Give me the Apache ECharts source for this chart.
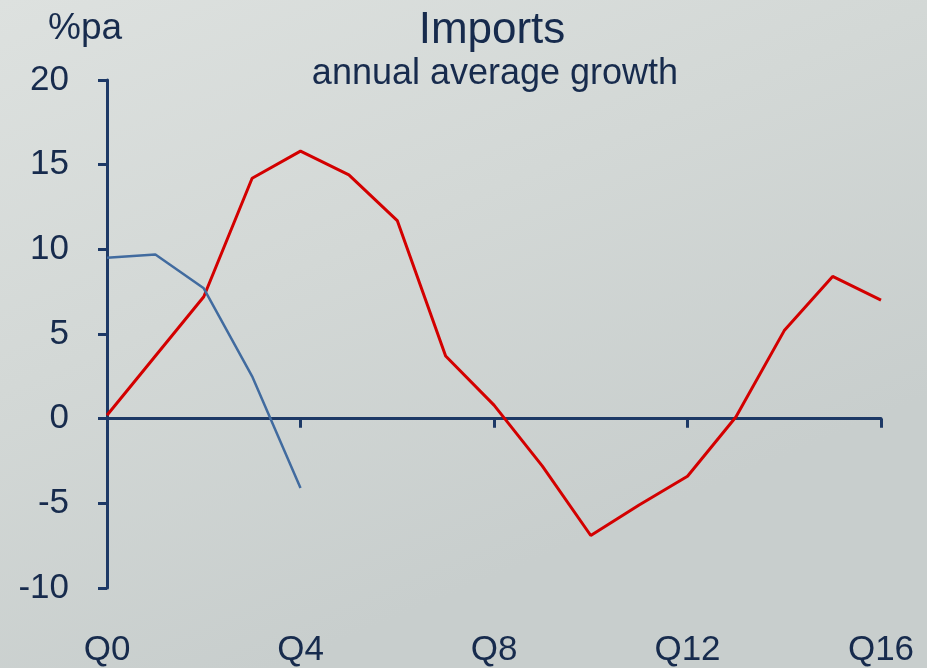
<!DOCTYPE html>
<html>
<head>
<meta charset="utf-8">
<script src="https://cdn.jsdelivr.net/npm/echarts@6/dist/echarts.min.js"></script>
<style>
  html, body { margin: 0; padding: 0; }
  #chart { width: 927px; height: 668px; }
</style>
</head>
<body>
<div id="chart"></div>
<script>
// quarters after the start of the cycle
var quarters = ['Q0','Q1','Q2','Q3','Q4','Q5','Q6','Q7','Q8','Q9','Q10','Q11','Q12','Q13','Q14','Q15','Q16'];
// red line: average cycle
var redLine = [0.2, 3.7, 7.2, 14.2, 15.8, 14.4, 11.7, 3.7, 0.8, -2.8, -6.9, -5.1, -3.4, 0.1, 5.2, 8.4, 7.0];
// blue line: current cycle
var blueLine = [9.5, 9.7, 7.7, 2.5, -4.1];

var ink = '#172b4d';
var axisCol = '#1d3966';

var myChart = echarts.init(document.getElementById('chart'));
var option = {
  backgroundColor: {
    type: 'linear', x: 0, y: 0, x2: 0.3, y2: 1,
    colorStops: [
      { offset: 0, color: '#dde1df' },
      { offset: 0.5, color: '#d3d8d6' },
      { offset: 1, color: '#c8cecd' }
    ]
  },
  animation: false,
  title: [
    {
      text: 'Imports',
      left: 487, top: 4,
      textAlign: 'center',
      textStyle: { fontFamily: 'Liberation Sans', fontSize: 44, fontWeight: 'normal', color: ink }
    },
    {
      text: 'annual average growth',
      left: 490, top: 51,
      textAlign: 'center',
      textStyle: { fontFamily: 'Liberation Sans', fontSize: 36, fontWeight: 'normal', color: ink }
    },
    {
      text: '%pa',
      left: 43, top: 5,
      textStyle: { fontFamily: 'Liberation Sans', fontSize: 37, fontWeight: 'normal', color: ink }
    }
  ],
  grid: { left: 107, right: 46, top: 80, bottom: 79, containLabel: false },
  xAxis: [
    {
      type: 'category',
      data: quarters,
      boundaryGap: false,
      axisLine: { onZero: true, lineStyle: { color: axisCol, width: 3 } },
      axisTick: { show: true, interval: 3, length: 9, inside: false, lineStyle: { color: axisCol, width: 3 } },
      axisLabel: { show: false },
      splitLine: { show: false }
    },
    {
      type: 'category',
      data: quarters,
      boundaryGap: false,
      position: 'bottom',
      axisLine: { show: false, onZero: false },
      axisTick: { show: false },
      axisLabel: {
        interval: 3, margin: 45,
        fontFamily: 'Liberation Sans', fontSize: 35, color: ink
      },
      splitLine: { show: false }
    }
  ],
  yAxis: {
    type: 'value',
    min: -10, max: 20, interval: 5,
    axisLine: { show: true, lineStyle: { color: axisCol, width: 3 } },
    axisTick: { show: true, length: 9, lineStyle: { color: axisCol, width: 3 } },
    axisLabel: { margin: 38, fontFamily: 'Liberation Sans', fontSize: 35, color: ink },
    splitLine: { show: false }
  },
  series: [
    {
      name: 'Average',
      type: 'line',
      data: redLine,
      symbol: 'none',
      lineStyle: { color: '#d30000', width: 3 }
    },
    {
      name: 'Current',
      type: 'line',
      data: blueLine,
      symbol: 'none',
      lineStyle: { color: '#416b9f', width: 2.5 }
    }
  ]
};
option && myChart.setOption(option);
</script>
</body>
</html>
